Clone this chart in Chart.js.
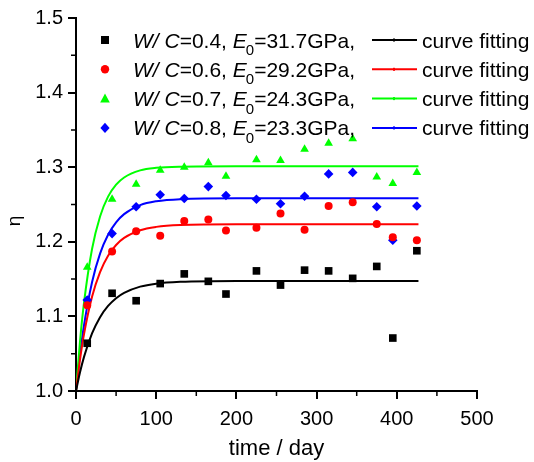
<!DOCTYPE html>
<html>
<head>
<meta charset="utf-8">
<title>eta vs time</title>
<script src="https://cdn.jsdelivr.net/npm/chart.js"></script>
<style>
	body { margin: 0; background: #fff; }
	#wrap { width: 534px; height: 462px; }
</style>
</head>
<body>
<div id="wrap"><canvas id="myChart" width="534" height="462"></canvas></div>
<script>
// measured points (days)
var days = [14, 45, 75, 105, 135, 165, 187, 225, 255, 285, 315, 345, 375, 395, 425];
var wc04 = [1.064, 1.131, 1.121, 1.144, 1.157, 1.147, 1.130, 1.161, 1.142, 1.162, 1.161, 1.151, 1.167, 1.071, 1.188];
var wc06 = [1.115, 1.187, 1.214, 1.208, 1.228, 1.230, 1.215, 1.219, 1.238, 1.216, 1.248, 1.253, 1.224, 1.206, 1.202];
var wc07 = [1.166, 1.257, 1.277, 1.296, 1.300, 1.306, 1.288, 1.310, 1.309, 1.324, 1.332, 1.338, 1.287, 1.278, 1.293];
var wc08 = [1.122, 1.211, 1.247, 1.263, 1.258, 1.274, 1.262, 1.257, 1.251, 1.261, 1.291, 1.293, 1.247, 1.202, 1.248];

// fitted curves
var fitDays = [0, 5, 10, 20, 30, 40, 50, 60, 80, 100, 130, 200, 300, 427];
var fit04 = [1, 1.025, 1.0457, 1.0771, 1.099, 1.114, 1.1244, 1.1316, 1.1399, 1.1439, 1.1463, 1.1475, 1.1475, 1.1475];
var fit06 = [1, 1.042, 1.0762, 1.1263, 1.1594, 1.1813, 1.1957, 1.2052, 1.2155, 1.22, 1.2225, 1.2235, 1.2235, 1.2235];
var fit07 = [1, 1.0666, 1.1184, 1.1904, 1.234, 1.2605, 1.2765, 1.2862, 1.2957, 1.2992, 1.3007, 1.3012, 1.3012, 1.3012];
var fit08 = [1, 1.0486, 1.0881, 1.1459, 1.1842, 1.2095, 1.2261, 1.2371, 1.2491, 1.2543, 1.2572, 1.2583, 1.2583, 1.2583];

var xTicks = [0, 100, 200, 300, 400, 500];
var yTicks = [1.0, 1.1, 1.2, 1.3, 1.4, 1.5];

var legendRows = [
	{ wc: '0.4', e0: '31.7', color: '#000000', style: 'rect' },
	{ wc: '0.6', e0: '29.2', color: '#ff0000', style: 'circle' },
	{ wc: '0.7', e0: '24.3', color: '#00ff00', style: 'triangle' },
	{ wc: '0.8', e0: '23.3', color: '#0000ff', style: 'rectRot' }
];

var FONT = '"Liberation Sans", Arial, sans-serif';

function pairs( xs, ys ) {
	var out = [];
	for( var i = 0; i < xs.length; i++ ) {
		out.push( { x: xs[ i ], y: ys[ i ] } );
	}
	return out;
}

function pointSet( data, color, style, radius ) {
	return {
		data: pairs( days, data ),
		showLine: false,
		pointStyle: style,
		pointRadius: radius,
		backgroundColor: color,
		borderColor: color,
		borderWidth: 0,
		order: 0
	};
}

function fitSet( data, color ) {
	return {
		data: pairs( fitDays, data ),
		showLine: true,
		pointRadius: 0,
		borderColor: color,
		borderWidth: 2,
		cubicInterpolationMode: 'monotone',
		fill: false,
		order: 1
	};
}

function marker( ctx, style, x, y, color ) {
	ctx.save();
	ctx.fillStyle = color;
	ctx.beginPath();
	if( style == 'rect' ) {
		ctx.rect( x - 4, y - 4, 8, 8 );
	} else if( style == 'circle' ) {
		ctx.arc( x, y, 4.2, 0, Math.PI * 2 );
	} else if( style == 'triangle' ) {
		ctx.moveTo( x, y - 5 );
		ctx.lineTo( x + 4.8, y + 3.8 );
		ctx.lineTo( x - 4.8, y + 3.8 );
		ctx.closePath();
	} else {
		ctx.moveTo( x, y - 5.2 );
		ctx.lineTo( x + 4.6, y );
		ctx.lineTo( x, y + 5.2 );
		ctx.lineTo( x - 4.6, y );
		ctx.closePath();
	}
	ctx.fill();
	ctx.restore();
}

var extras = {
	id: 'extras',
	afterDraw: function( chart ) {
		var ctx = chart.ctx;
		var xs = chart.scales.x;
		var ys = chart.scales.y;
		var area = chart.chartArea;

		// minor ticks
		ctx.save();
		ctx.strokeStyle = '#000';
		ctx.lineWidth = 1.5;
		ctx.beginPath();
		for( var d = 50; d < 500; d += 100 ) {
			var px = xs.getPixelForValue( d );
			ctx.moveTo( px, area.bottom );
			ctx.lineTo( px, area.bottom + 5 );
		}
		for( var v = 1.05; v < 1.5; v += 0.1 ) {
			var py = ys.getPixelForValue( v );
			ctx.moveTo( area.left, py );
			ctx.lineTo( area.left - 5, py );
		}
		ctx.stroke();
		ctx.restore();

		// axis titles
		ctx.save();
		ctx.fillStyle = '#000';
		ctx.font = '22px ' + FONT;
		ctx.textAlign = 'center';
		ctx.textBaseline = 'alphabetic';
		ctx.fillText( 'time / day', ( area.left + area.right ) / 2, 455 );
		ctx.font = '19px ' + FONT;
		ctx.translate( 15, 221 );
		ctx.rotate( -Math.PI / 2 );
		ctx.textBaseline = 'middle';
		ctx.fillText( 'η', 0, 0 );
		ctx.restore();

		// legend
		ctx.save();
		ctx.fillStyle = '#000';
		ctx.textAlign = 'left';
		ctx.textBaseline = 'alphabetic';
		for( var i = 0; i < legendRows.length; i++ ) {
			var row = legendRows[ i ];
			var base = 47.5 + i * 29.3;
			var mid = base - 7.5;
			marker( ctx, row.style, 105, mid, row.color );

			var parts = [
				[ 'W/', 'italic 21px ' ],
				[ ' ', '21px ' ],
				[ 'C', 'italic 21px ' ],
				[ '=' + row.wc + ', ', '21px ' ],
				[ 'E', 'italic 21px ' ],
				[ '0', '15px ', 7.5, -1 ],
				[ '=' + row.e0 + 'GPa,', '21px ' ]
			];
			var x = 133;
			for( var j = 0; j < parts.length; j++ ) {
				var p = parts[ j ];
				ctx.font = p[ 1 ] + FONT;
				if( p[ 3 ] ) x += p[ 3 ];
				ctx.fillText( p[ 0 ], x, base + ( p[ 2 ] || 0 ) );
				x += ctx.measureText( p[ 0 ] ).width;
			}

			ctx.strokeStyle = row.color;
			ctx.lineWidth = 2;
			ctx.beginPath();
			ctx.moveTo( 372, mid );
			ctx.lineTo( 417, mid );
			ctx.stroke();
			ctx.fillStyle = row.color;
			ctx.fillRect( 393, mid - 1.5, 2, 3 );
			ctx.fillStyle = '#000';

			ctx.font = '21px ' + FONT;
			ctx.fillText( 'curve fitting', 422, base );
		}
		ctx.restore();
	}
};

var ctx = document.getElementById( 'myChart' );

new Chart( ctx, {
	type: 'scatter',
	data: {
		datasets: [
			pointSet( wc04, '#000000', 'rect', 5.4 ),
			pointSet( wc06, '#ff0000', 'circle', 4 ),
			pointSet( wc07, '#00ff00', 'triangle', 5 ),
			pointSet( wc08, '#0000ff', 'rectRot', 4.8 ),
			fitSet( fit04, '#000000' ),
			fitSet( fit06, '#ff0000' ),
			fitSet( fit07, '#00ff00' ),
			fitSet( fit08, '#0000ff' )
		]
	},
	options: {
		responsive: false,
		animation: false,
		layout: {
			padding: { left: 0, right: 57, top: 18, bottom: 0 }
		},
		plugins: {
			legend: { display: false },
			tooltip: { enabled: false }
		},
		scales: {
			x: {
				type: 'linear',
				min: 0,
				max: 500,
				afterBuildTicks: function( scale ) {
					scale.ticks = xTicks.map( function( v ) { return { value: v }; } );
				},
				afterFit: function( scale ) {
					scale.height = 71;
				},
				border: { color: '#000', width: 2 },
				grid: { drawOnChartArea: false, color: '#000', lineWidth: 2, tickLength: 8 },
				ticks: {
					color: '#000',
					font: { size: 20, family: FONT },
					padding: 8,
					maxRotation: 0
				}
			},
			y: {
				type: 'linear',
				min: 1.0,
				max: 1.5,
				afterBuildTicks: function( scale ) {
					scale.ticks = yTicks.map( function( v ) { return { value: v }; } );
				},
				afterFit: function( scale ) {
					scale.width = 76;
				},
				border: { color: '#000', width: 2 },
				grid: { drawOnChartArea: false, color: '#000', lineWidth: 2, tickLength: 8 },
				ticks: {
					color: '#000',
					font: { size: 20, family: FONT },
					padding: 5,
					callback: function( v ) { return Number( v ).toFixed( 1 ); }
				}
			}
		}
	},
	plugins: [ extras ]
});
</script>
</body>
</html>
